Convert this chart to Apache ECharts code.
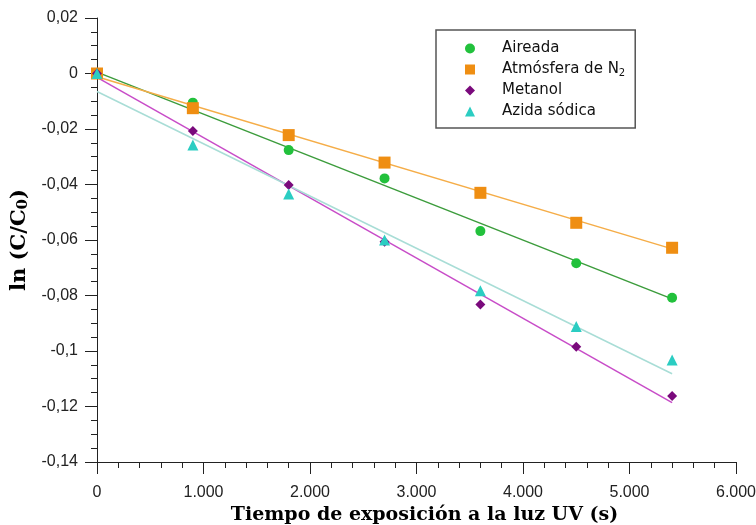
<!DOCTYPE html>
<html>
<head>
<meta charset="utf-8">
<script src="https://cdn.jsdelivr.net/npm/echarts@6/dist/echarts.min.js"></script>
<style>
html,body{margin:0;padding:0;background:#fff;}
#chart{width:756px;height:525px;}
</style>
</head>
<body>
<div id="chart"></div>
<script>
// ---- data ----
var times = [0, 900, 1800, 2700, 3600, 4500, 5400];
var seriesNames = ['Aireada', 'Atmósfera de N2', 'Metanol', 'Azida sódica'];
var aireada   = [0, -0.0105, -0.0276, -0.0378, -0.0568, -0.0684, -0.0808];
var atmosfera = [0, -0.0125, -0.0222, -0.0321, -0.0430, -0.0538, -0.0628];
var metanol   = [0, -0.0207, -0.0402, -0.0606, -0.0832, -0.0985, -0.1162];
var azida     = [0, -0.0258, -0.0434, -0.0600, -0.0783, -0.0912, -0.1032];
// trend line end values (at first and last time)
var trendAireada   = [0.0005, -0.0812];
var trendAtmosfera = [-0.0012, -0.0632];
var trendMetanol   = [-0.0014, -0.1186];
var trendAzida     = [-0.0065, -0.1082];
var yTicks = [0.02, 0, -0.02, -0.04, -0.06, -0.08, -0.1, -0.12, -0.14];
var xTicks = [0, 1000, 2000, 3000, 4000, 5000, 6000];

function pts(ys){ return times.map(function(t,i){ return [t, ys[i]]; }); }
function trend(tv){ return [[times[0], tv[0]], [times[times.length-1], tv[1]]]; }

var markerColors = ['#22c13c', '#ef8e12', '#7a0a7c', '#2bcdc2'];
var lineColors   = ['#3c9c3c', '#f5ad48', '#c84cc8', '#a8ddd6'];
var symbols = ['circle', 'rect', 'diamond', 'triangle'];
var sizes = [10, 12, 10, 11];
var values = [aireada, atmosfera, metanol, azida];
var trends = [trendAireada, trendAtmosfera, trendMetanol, trendAzida];

var series = [];
for (var i = 0; i < 4; i++) {
  series.push({
    type: 'line', data: trend(trends[i]), showSymbol: false, silent: true,
    lineStyle: {color: lineColors[i], width: 1.5}, z: 2, animation: false
  });
}
for (var j = 0; j < 4; j++) {
  series.push({
    name: seriesNames[j], type: 'scatter', data: pts(values[j]),
    symbol: symbols[j], symbolSize: sizes[j],
    itemStyle: {color: markerColors[j], opacity: 1}, z: 3, animation: false
  });
}

var axisCol = '#222';
var titleFont = 'DejaVu Serif';
var chart = echarts.init(document.getElementById('chart'));
chart.setOption({
  backgroundColor: '#fff',
  animation: false,
  grid: {left: 97, right: 20, top: 18, bottom: 63, containLabel: false, outerBoundsMode: 'none'},
  legend: {
    orient: 'vertical', left: 436, top: 30,
    data: seriesNames,
    borderColor: '#555', borderWidth: 1.5,
    padding: [10, 10, 8, 29],
    itemWidth: 10, itemHeight: 10, itemGap: 4,
    formatter: function(n){ return n === 'Atmósfera de N2' ? 'Atmósfera de N{sub|2}' : n; },
    textStyle: {
      fontFamily: 'DejaVu Sans', fontSize: 15, color: '#111', lineHeight: 17,
      padding: [0, 0, 0, 22],
      rich: {sub: {fontFamily: 'DejaVu Sans', fontSize: 10, verticalAlign: 'bottom', padding: [6, 0, 0, 0], color: '#111'}}
    }
  },
  xAxis: {
    type: 'value', min: 0, max: 6000, interval: 1000,
    name: 'Tiempo de exposición a la luz UV (s)', nameLocation: 'middle', nameGap: 36,
    nameTextStyle: {fontFamily: titleFont, fontWeight: 'bold', fontSize: 19, color: '#000', padding: [0, 0, 0, 16]},
    axisLine: {onZero: false, lineStyle: {color: axisCol, width: 1}},
    axisTick: {show: true, length: 12, lineStyle: {color: axisCol}},
    minorTick: {show: true, splitNumber: 5, length: 6, lineStyle: {color: axisCol}},
    splitLine: {show: false},
    axisLabel: {
      margin: 23, fontFamily: 'Liberation Sans', fontSize: 16, color: '#222',
      formatter: function(v){ return v === 0 ? '0' : (v/1000) + '.000'; }
    }
  },
  yAxis: {
    type: 'value', min: -0.14, max: 0.02, interval: 0.02,
    name: 'ln (C/C{sub|0})', nameLocation: 'middle', nameGap: 62, nameRotate: 90,
    nameTextStyle: {fontFamily: titleFont, fontWeight: 'bold', fontSize: 21, color: '#000',
      rich: {sub: {fontFamily: titleFont, fontWeight: 'bold', fontSize: 15, color: '#000', verticalAlign: 'bottom', padding: [7,0,0,0]}}},
    axisLine: {onZero: false, lineStyle: {color: axisCol, width: 1}},
    axisTick: {show: true, length: 12, lineStyle: {color: axisCol}},
    minorTick: {show: true, splitNumber: 4, length: 6, lineStyle: {color: axisCol}},
    splitLine: {show: false},
    axisLabel: {
      margin: 19, fontFamily: 'Liberation Sans', fontSize: 16, color: '#222',
      formatter: function(v){ var r = Math.round(v*100)/100; return String(r).replace('.', ','); }
    }
  },
  series: series
});
</script>
</body>
</html>
